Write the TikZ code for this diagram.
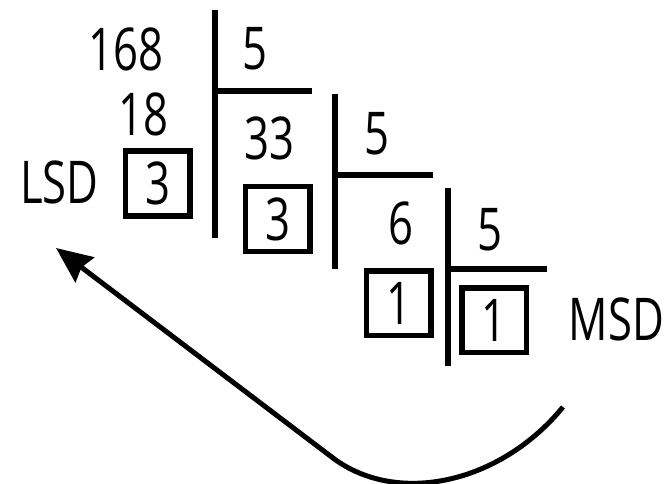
\documentclass[tikz,border=0pt]{standalone}
\usepackage{fontspec}
\setmainfont{Open Sans}[FakeStretch=0.74]
\usepackage{tikz}
\usetikzlibrary{arrows.meta}

\begin{document}
\begin{tikzpicture}[
    x=1pt, y=-1pt,
    num/.style={inner sep=0pt, anchor=base, font=\fontsize{59}{62}\selectfont},
    digbox/.style={draw, line width=5.5pt, minimum size=64.5pt, inner sep=0pt, font=\fontsize{59}{62}\selectfont},
    bar/.style={line width=6.5pt},
    arr/.style={-{Stealth[length=36pt, width=31pt, inset=4pt]}, line width=5pt},
  ]
  \useasboundingbox (0,0) rectangle (667,484);
  % dividends and quotients
  \node[num] (n168) at (126,71) {168};
  \node[num] (n18) at (143.5,136) {18};
  \node[num] (n33) at (269,160) {33};
  \node[num] (n6) at (401,244) {6};
  % divisors
  \node[num] (d1) at (255,70) {5};
  \node[num] (d2) at (377,155) {5};
  \node[num] (d3) at (490,250) {5};
  % remainders
  \node[digbox] (r1) at (157.5,183.5) {3};
  \node[digbox] (r2) at (277.5,219) {3};
  \node[digbox] (r3) at (398.5,303) {1};
  \node[digbox] (r4) at (494,320) {1};
  \node[num] (lsd) at (59.5,204) {LSD};
  \node[num] (msd) at (616.5,340) {MSD};
  % division bars
  \foreach \x/\t/\m/\b/\e in {215/10/91/238/312, 335/94/175/269/433, 448/188/269/366/547} {
    \draw[bar] (\x,\t) -- (\x,\b);
    \draw[bar] (\x,\m) -- (\e,\m);
  }
  % reading direction
  \coordinate (from) at (563,407);
  \coordinate (bend) at (333,458);
  \coordinate (tip) at (56,248);
  \draw[arr] (from) .. controls (500,484) and (397,506) .. (bend) -- (tip);
\end{tikzpicture}
\end{document}
